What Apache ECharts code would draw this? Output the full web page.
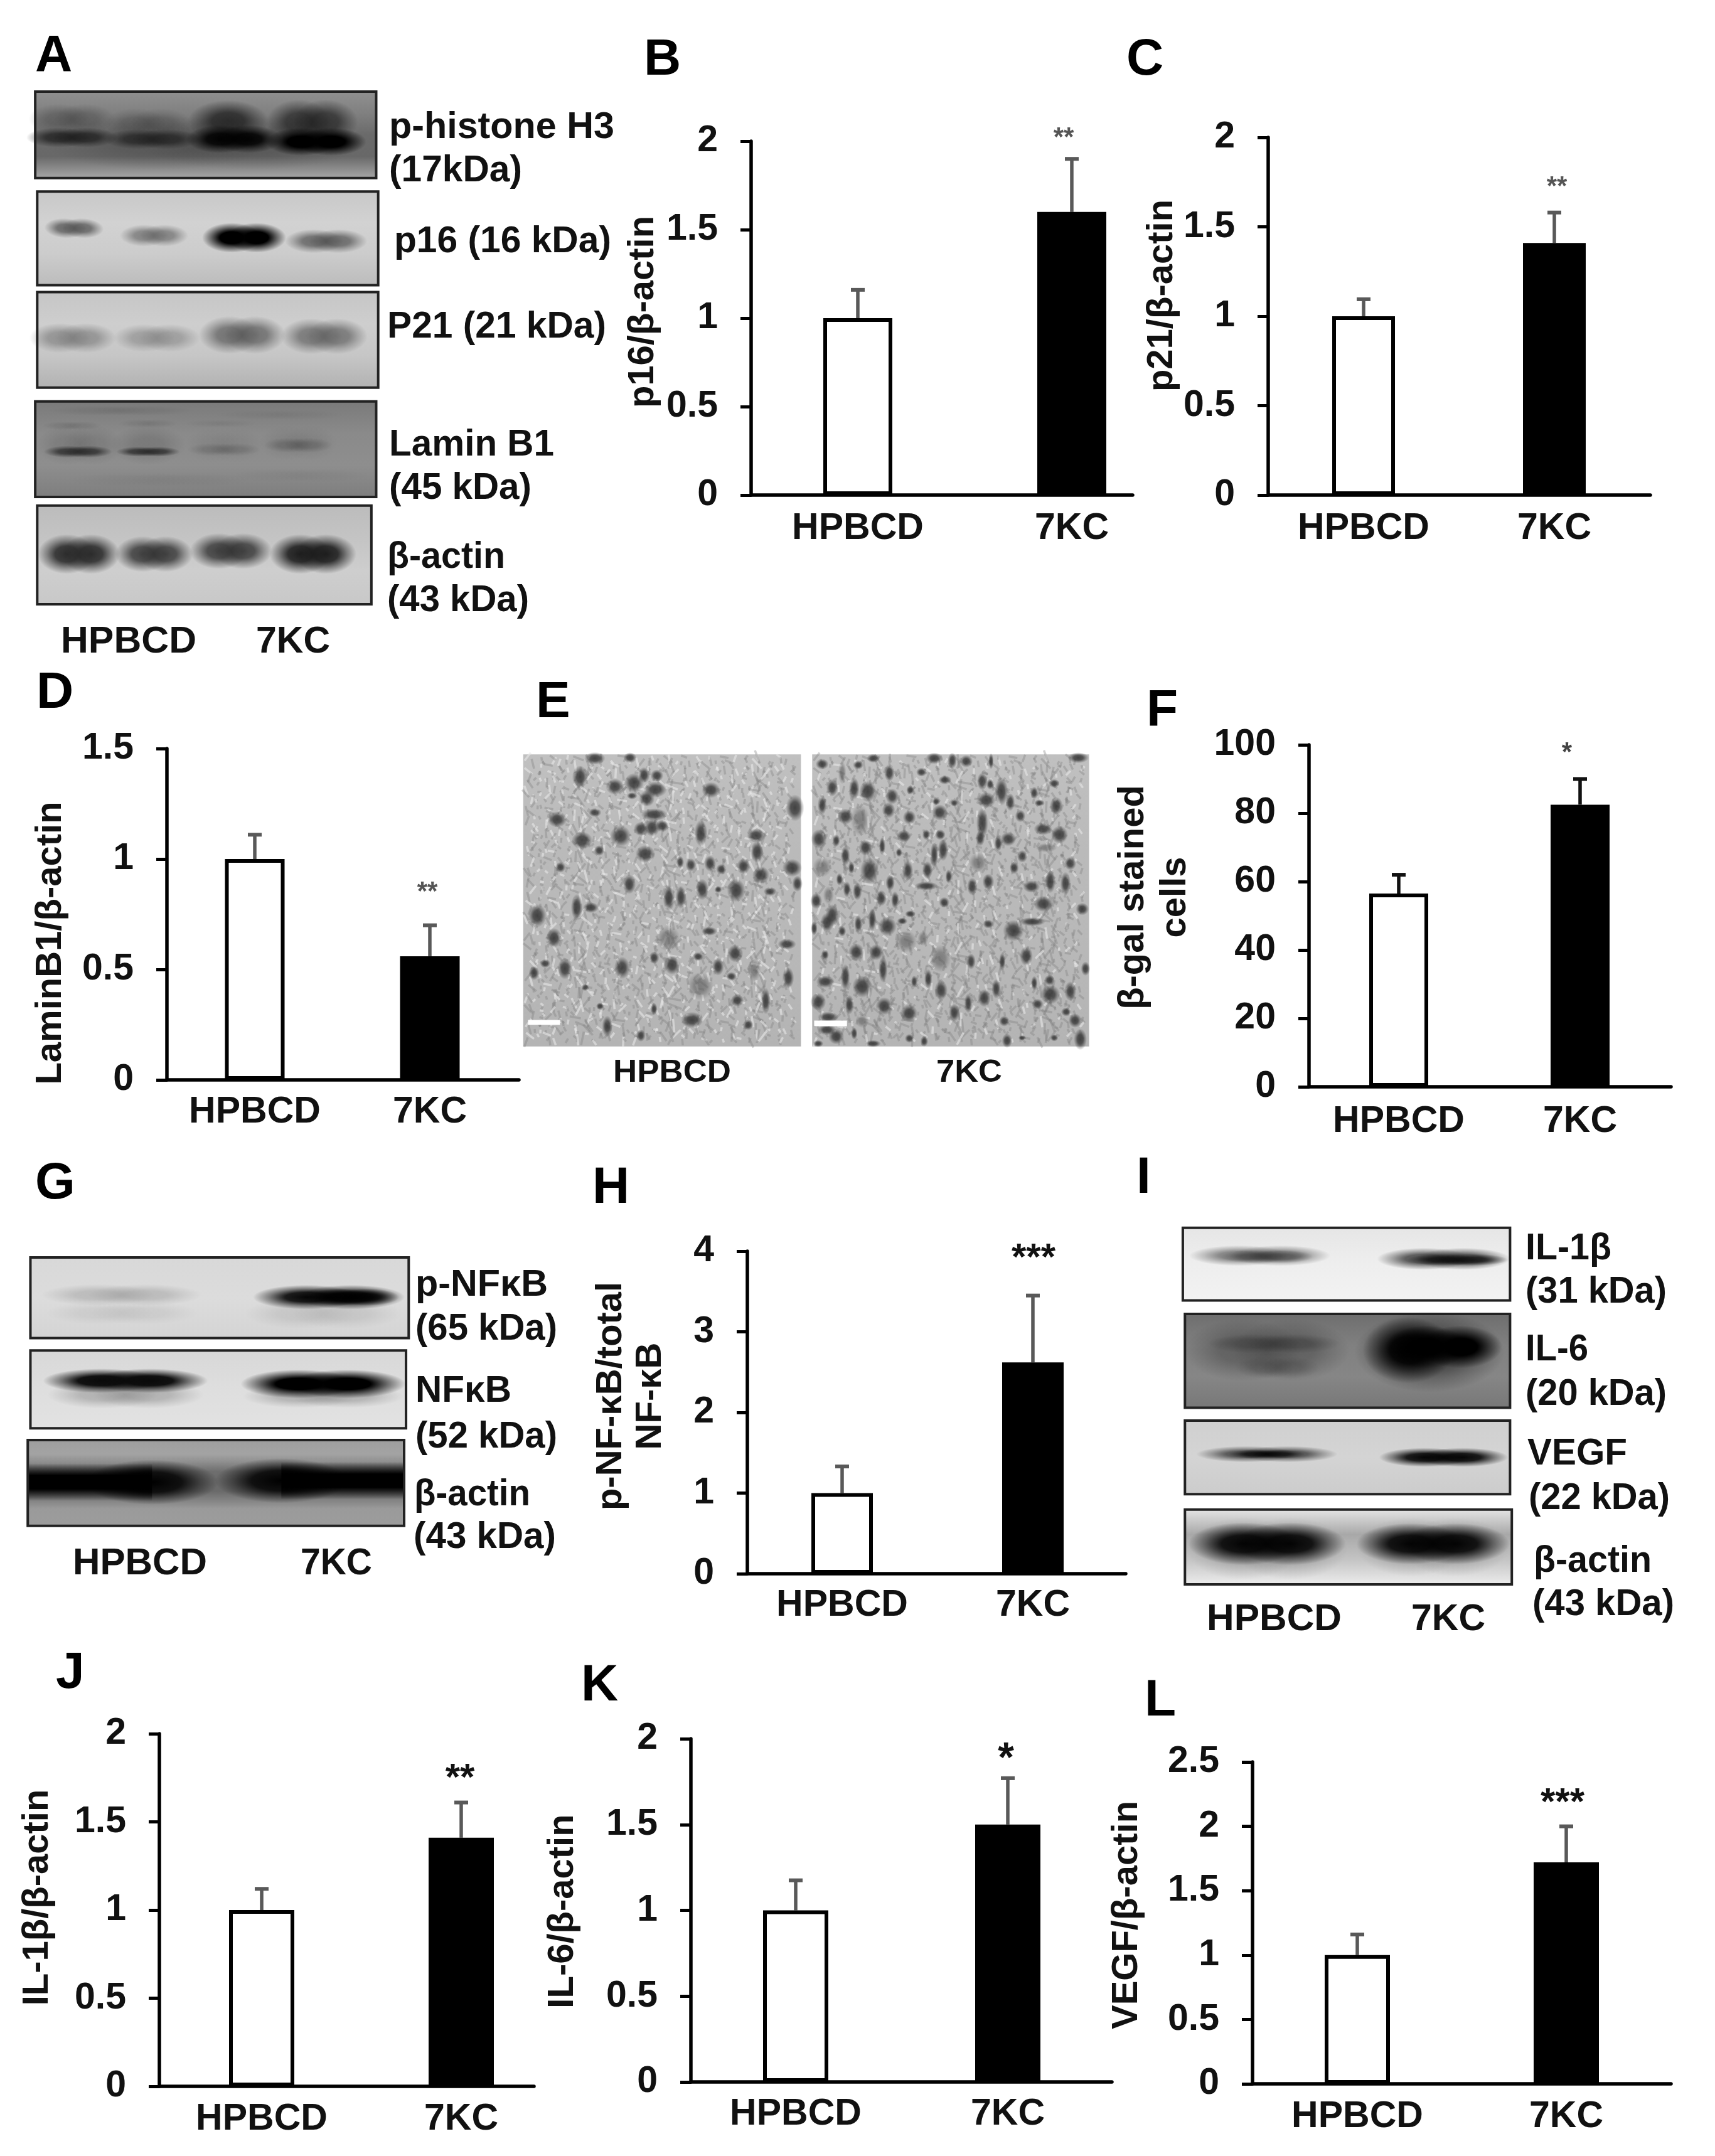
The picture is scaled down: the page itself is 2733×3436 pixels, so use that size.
<!DOCTYPE html>
<html><head><meta charset="utf-8">
<style>html,body{margin:0;padding:0;background:#fff}#c{width:2733px;height:3436px}</style>
<script src="https://cdn.jsdelivr.net/npm/echarts@6/dist/echarts.min.js"></script>
</head><body><div id="c"></div>
<script>
// ---------- DATA ----------
const categories = ['HPBCD', '7KC'];
const valuesB = [1, 1.6],    errorsB = [0.16, 0.30];
const valuesC = [1, 1.41],   errorsC = [0.095, 0.17];
const valuesD = [1, 0.56],   errorsD = [0.11, 0.14];
const valuesF = [56.5, 82.5], errorsF = [5.5, 7.5];
const valuesH = [1, 2.62],   errorsH = [0.33, 0.83];
const valuesJ = [1, 1.41],   errorsJ = [0.12, 0.20];
const valuesK = [1, 1.5],    errorsK = [0.175, 0.27];
const valuesL = [1, 1.72],   errorsL = [0.16, 0.28];
const titlesY = {B:'p16/β-actin', C:'p21/β-actin', D:'LaminB1/β-actin', F:'β-gal stained\ncells',
                 H:'p-NF-κB/total\nNF-κB', J:'IL-1β/β-actin', K:'IL-6/β-actin', L:'VEGF/β-actin'};
const stars = {B:'**', C:'**', D:'**', F:'*', H:'***', J:'**', K:'*', L:'***'};

// ---------- LAYOUT of each bar panel (pixels) ----------
const panels = [
 {k:'B',v:valuesB,e:errorsB,max:2,  step:.5, ax:1197,top:225, bot:789, right:1805,c:[1367,1708],bw:110,tx:1025,ty:497, star:[1695,212,42,'#555'],xm:24,err:'#595959'},
 {k:'C',v:valuesC,e:errorsC,max:2,  step:.5, ax:2021,top:219, bot:789, right:2630,c:[2173,2477],bw:100,tx:1852,ty:471, star:[2481,290,42,'#555'],xm:24,err:'#595959'},
 {k:'D',v:valuesD,e:errorsD,max:1.5,step:.5, ax:266, top:1193,bot:1721,right:827, c:[406,685], bw:95, tx:81,  ty:1503,star:[681,1414,42,'#555'],xm:22,err:'#595959'},
 {k:'F',v:valuesF,e:errorsF,max:100,step:20, ax:2086,top:1187,bot:1732,right:2663,c:[2229,2518],bw:94, tx:1877,ty:1430,star:[2497,1192,42,'#444'],xm:26,err:'#111',lh:67},
 {k:'H',v:valuesH,e:errorsH,max:4,  step:1,  ax:1191,top:1994,bot:2508,right:1794,c:[1342,1646],bw:98, tx:1039,ty:2225,star:[1647,1994,60,'#111'],xm:21,err:'#595959',lh:63},
 {k:'J',v:valuesJ,e:errorsJ,max:2,  step:.5, ax:254, top:2763,bot:3325,right:851, c:[417,735], bw:104,tx:60,  ty:3024,star:[733,2823,60,'#111'],xm:23,err:'#595959'},
 {k:'K',v:valuesK,e:errorsK,max:2,  step:.5, ax:1101,top:2771,bot:3318,right:1772,c:[1268,1606],bw:104,tx:897, ty:3046,star:[1603,2792,66,'#111'],xm:22,err:'#595959'},
 {k:'L',v:valuesL,e:errorsL,max:2.5,step:.5, ax:1996,top:2808,bot:3321,right:2663,c:[2163,2496],bw:104,tx:1796,ty:3052,star:[2490,2862,60,'#111'],xm:23,err:'#595959'}
];
const FONT = '"Liberation Sans", Arial, sans-serif';
const TICK_FS = 59, TITLE_FS = 58;

// ---------- text helpers ----------
const mctx = document.createElement('canvas').getContext('2d');
function label(text, x0, x1, yc, fs, fill) {
  mctx.font = 'bold ' + fs + 'px "Liberation Sans"';
  const w = mctx.measureText(text).width;
  const sx = x1 ? (x1 - x0) / w : 1;
  return {type:'text', z:20, x:x0, y:yc, scaleX:sx, silent:true,
    style:{text:text, fontFamily:FONT, fontWeight:'bold', fontSize:fs, fill:fill||'#111', align:'left', verticalAlign:'middle'}};
}
const panelLetters = [['A',56,90],['B',1026,96],['C',1795,96],['D',58,1105],['E',854,1120],['F',1827,1134],
  ['G',56,1887],['H',944,1894],['I',1811,1878],['J',89,2667],['K',926,2687],['L',1824,2711]];
const blotLabels = [
 ['p-histone H3',620,979,204],['(17kDa)',620,832,273],['p16 (16 kDa)',628,974,386],['P21 (21 kDa)',617,966,522],
 ['Lamin B1',620,883,710],['(45 kDa)',620,847,779],['β-actin',617,805,889],['(43 kDa)',617,843,958],
 ['HPBCD',97,313,1024],['7KC',408,526,1024],
 ['p-NFκB',662,873,2049],['(65 kDa)',662,888,2119],['NFκB',662,815,2218],['(52 kDa)',662,888,2291],
 ['β-actin',660,845,2383],['(43 kDa)',659,886,2451],['HPBCD',116,330,2493],['7KC',479,593,2493],
 ['IL-1β',2431,2568,1991],['(31 kDa)',2431,2656,2060],['IL-6',2431,2531,2152],['(20 kDa)',2431,2656,2223],
 ['VEGF',2434,2593,2318],['(22 kDa)',2436,2661,2389],['β-actin',2444,2632,2489],['(43 kDa)',2442,2668,2558],
 ['HPBCD',1923,2138,2582],['7KC',2249,2367,2582]
];

// ---------- blot drawing: soft bands as radial-gradient circles ----------
function grey(g,a){return 'rgba('+g+','+g+','+g+','+a+')';}
function blob(x,y,rx,ry,g,a,rot,tight){
  const stops = tight
    ? [{offset:0,color:grey(g,a)},{offset:.45,color:grey(g,a*.85)},{offset:.72,color:grey(g,a*.4)},{offset:1,color:grey(g,0)}]
    : [{offset:0,color:grey(g,a)},{offset:.4,color:grey(g,a*.9)},{offset:.7,color:grey(g,a*.42)},{offset:1,color:grey(g,0)}];
  return {type:'circle', z:5, silent:true, x:x, y:y, scaleX:rx/100, scaleY:ry/100, rotation:rot||0,
    shape:{cx:0,cy:0,r:100},
    style:{fill:{type:'radial',x:.5,y:.5,r:.5,colorStops:stops}}};
}
function blotFrame(x,y,w,h,stops){
  return {type:'rect', z:4, silent:true, shape:{x:x,y:y,width:w,height:h},
    style:{fill:{type:'linear',x:0,y:0,x2:0,y2:1,colorStops:stops.map((c,i)=>({offset:i/(stops.length-1),color:c}))}}};
}
function blotEdge(x,y,w,h){
  return {type:'rect', z:7, silent:true, shape:{x:x,y:y,width:w,height:h}, style:{fill:'transparent',stroke:'#222',lineWidth:4}};
}
function crop(ox,oy,cw,ch){
  const kx=cw/1568, ky=ch/1568;
  return {
    // a band: two overlapping lobes so that the ends stay blunt
    b:(x,y,rx,ry,g,a,rot)=>{
      const X=ox+x*kx, Y=oy+y*ky, RX=rx*1.12*kx, RY=ry*1.15*ky;
      if(RX/RY<2) return [blob(X,Y,RX,RY,g,a,rot)];
      const al=1-Math.sqrt(1-Math.min(a,.995));
      return [blob(X-RX*.3,Y,RX*.72,RY,g,al*1.25,rot),blob(X+RX*.3,Y,RX*.72,RY,g,al*1.25,rot)];
    },
    n:(x,y,rx,ry,g,a)=>blob(ox+x*kx,oy+y*ky,rx*kx,ry*ky,g,a,0,true),
    bg:(x0,y0,x1,y1,st)=>blotFrame(ox+x0*kx,oy+y0*ky,(x1-x0)*kx,(y1-y0)*ky,st),
    edge:(x0,y0,x1,y1)=>blotEdge(ox+x0*kx,oy+y0*ky,(x1-x0)*kx,(y1-y0)*ky),
    fade:(x0,y0,x1,y1,g,a)=>({type:'rect',z:5,silent:true,shape:{x:ox+x0*kx,y:oy+y0*ky,width:(x1-x0)*kx,height:(y1-y0)*ky},
      style:{fill:{type:'linear',x:0,y:0,x2:0,y2:1,colorStops:[{offset:0,color:grey(g,0)},{offset:.32,color:grey(g,a)},{offset:.68,color:grey(g,a)},{offset:1,color:grey(g,0)}]}}}),
    bar:(x0,y0,x1,y1,c)=>({type:'rect',z:8,silent:true,shape:{x:ox+x0*kx,y:oy+y0*ky,width:(x1-x0)*kx,height:(y1-y0)*ky},style:{fill:c}}),
    kx,ky
  };
}
const gfx = [];
const add=(c,list)=>list.forEach(b=>gfx.push(...c.b(...b)));
// Panel A
(function(){
  const c=crop(0,0,1000,1080);
  gfx.push(c.bg(88,212,940,412,['#909090','#808080','#6a6a6a','#686868','#a6a6a6']));
  add(c,[[510,330,350,55,40,.35],[180,275,95,30,45,.45],[370,285,95,30,45,.4],[570,280,90,42,25,.8],[780,282,100,45,25,.8],
   [180,318,100,20,25,.85],[380,322,105,20,25,.8],[585,322,105,28,0,.95],[790,328,110,28,0,1]]);
  gfx.push(c.edge(88,212,940,412));
  gfx.push(c.bg(93,443,945,660,['#c8c8c8','#d2d2d2','#cccccc','#bcbcbc']));
  add(c,[[185,528,65,20,75,.85,-.05],[385,545,75,22,85,.75],[610,550,92,30,0,1],[815,558,90,24,65,.8]]);
  gfx.push(c.edge(93,443,945,660));
  gfx.push(c.bg(93,676,945,897,['#c6c6c6','#cecece','#c6c6c6','#b2b2b2']));
  add(c,[[182,782,95,30,105,.7],[392,782,95,28,115,.65],[605,775,95,38,75,.8],[810,778,95,36,85,.8]]);
  gfx.push(c.edge(93,676,945,897));
  gfx.push(c.bg(88,929,940,1150,['#7a7a7a','#8a8a8a','#8e8e8e','#7e7e7e']));
  add(c,[[200,1030,95,40,70,.3],[370,1030,85,40,70,.25],[560,1030,85,35,75,.15],[745,1025,85,35,75,.2],[195,1045,75,12,35,.85],[370,1045,70,10,35,.85],
   [560,1040,80,13,80,.45],[745,1030,75,15,70,.5],[180,985,65,9,80,.3],[370,980,65,9,80,.25],[550,980,80,8,80,.15],[700,960,140,10,95,.2],[300,950,160,10,70,.2],[400,1110,200,15,105,.2],[750,1100,150,14,105,.18]]);
  gfx.push(c.edge(88,929,940,1150));
  gfx.push(c.bg(93,1170,928,1398,['#bcbcbc','#c4c4c4','#cecece','#c8c8c8']));
  add(c,[[197,1282,90,40,40,.95],[385,1282,85,36,45,.9],[577,1275,90,36,45,.9],[782,1282,95,40,25,.95]]);
  gfx.push(c.edge(93,1170,928,1398));
})();
// Panel G
(function(){
  const c=crop(0,1820,950,780);
  gfx.push(c.bg(80,370,1075,628,['#d8d8d8','#dcdcdc','#d4d4d4']));
  add(c,[[320,490,185,30,130,.5],[320,548,175,32,170,.4],[850,550,180,42,150,.4],[865,497,175,34,0,.95],[930,497,105,24,0,.9]]);
  gfx.push(c.edge(80,370,1075,628));
  gfx.push(c.bg(80,668,1068,917,['#d8d8d8','#dedede','#e2e2e2']));
  add(c,[[330,810,180,38,100,.5],[850,815,185,32,100,.5],[330,765,190,34,10,.98],[850,775,190,40,0,1]]);
  gfx.push(c.edge(80,668,1068,917));
  gfx.push(c.bg(73,955,1063,1230,['#9e9e9e','#a6a6a6','#9a9a9a','#9a9a9a','#9c9c9c']));
  gfx.push(c.fade(75,1000,1061,1175,40,.42));
  gfx.push(c.fade(75,1030,400,1150,0,1)); gfx.push(c.fade(740,1025,1061,1145,0,1));
  gfx.push(c.n(400,1090,175,72,0,1)); gfx.push(c.n(740,1085,175,72,0,1));
  gfx.push(c.edge(73,955,1063,1230));
})();
// Panel I
(function(){
  const c=crop(1850,1820,883,800);
  gfx.push(c.bg(62,268,988,495,['#e6e6e6','#eeeeee','#f2f2f2']));
  add(c,[[280,355,175,28,60,.75],[300,358,115,18,40,.6],[800,365,165,30,30,.85],[840,368,125,16,10,.85]]);
  gfx.push(c.edge(62,268,988,495));
  gfx.push(c.bg(68,537,988,830,['#6e6e6e','#808080','#868686','#787878']));
  add(c,[[300,650,205,85,50,.55],[320,630,165,26,40,.5],[330,705,105,30,50,.4],[760,655,190,110,20,.6],[700,650,115,90,0,1],[800,640,145,58,0,1]]);
  gfx.push(c.edge(68,537,988,830));
  gfx.push(c.bg(68,870,988,1100,['#d0d0d0','#d4d4d4','#cccccc']));
  add(c,[[300,975,175,22,20,.8],[300,975,95,12,0,.8],[800,985,160,26,0,.95]]);
  gfx.push(c.edge(68,870,988,1100));
  gfx.push(c.bg(68,1148,993,1382,['#e4e4e4','#a8a8a8','#c4c4c4','#ececec']));
  add(c,[[300,1270,200,85,90,.5],[770,1265,190,80,90,.5],[300,1255,195,58,0,.95],[770,1255,190,56,0,.95]]);
  gfx.push(c.edge(68,1148,993,1382));
})();
// Panel E micrographs
const nucleiLeft = [[232,280,16,14],[320,278,10,12],[195,345,12,26],[282,378,14,18],[330,365,15,22],[355,338,9,18],[387,340,10,14],[383,388,18,18],[362,420,12,18],[325,410,8,8],[522,390,14,18],[732,452,14,30],[138,492,15,18],[232,468,10,10],[380,475,20,14],[347,525,11,16],[375,520,12,20],[400,515,10,14],[296,550,16,24],[200,565,16,20],[497,540,10,30],[635,548,14,16],[637,605,10,24],[358,612,15,20],[243,600,8,12],[146,658,8,12],[520,645,9,18],[472,650,8,15],[445,640,6,14],[603,655,10,18],[548,665,8,12],[647,685,13,20],[725,660,15,20],[738,715,8,18],[318,717,10,22],[500,735,10,24],[585,738,14,26],[417,765,9,30],[447,762,8,26],[540,735,6,8],[670,742,10,10],[187,797,9,30],[222,798,12,12],[88,826,14,26],[130,903,12,22],[518,880,12,10],[712,925,14,12],[583,957,12,20],[300,1007,12,25],[157,1010,11,24],[108,992,8,10],[425,997,12,22],[380,972,8,14],[490,968,8,10],[540,1003,9,20],[80,1025,8,16],[715,1042,9,24],[573,1037,8,10],[588,1120,10,14],[659,1122,7,30],[475,1188,17,18],[263,1210,8,24],[347,1242,7,14],[615,1205,8,12],[208,1075,6,8],[245,1140,6,8],[380,1150,5,14]];
const nucleiLeftPale = [[415,905,18,28],[630,1015,10,25],[495,1070,20,30]];
const nucleiRight = [[928,280,10,10],[1080,280,13,13],[1125,288,7,18],[1160,290,10,14],[1222,290,4,18],[1440,278,16,12],[890,303,8,10],[800,300,10,12],[968,330,8,20],[1048,328,8,10],[1107,355,10,10],[825,382,9,20],[880,385,8,25],[914,395,13,24],[975,412,10,18],[1020,390,6,10],[1200,360,8,20],[1220,370,6,12],[1248,395,10,32],[1210,425,14,18],[1270,432,7,20],[1380,367,8,10],[1330,400,6,14],[800,442,7,22],[1343,435,8,8],[1385,445,10,20],[858,482,12,18],[966,460,10,18],[1094,468,12,18],[1018,485,10,16],[1130,435,6,8],[1085,430,6,8],[1200,505,9,35],[1295,480,8,14],[1352,525,14,14],[1393,545,13,20],[1004,550,11,14],[1095,545,8,12],[1060,545,6,12],[792,560,12,22],[835,565,6,14],[1195,557,7,18],[1265,560,12,16],[1240,575,6,18],[908,590,10,18],[950,585,5,20],[1102,598,8,25],[1080,615,6,30],[858,618,7,22],[992,607,5,10],[1300,620,8,14],[1420,645,9,15],[918,670,14,30],[1014,670,8,22],[1063,668,8,20],[1280,660,7,14],[873,660,5,14],[1116,690,5,16],[970,712,7,18],[1060,723,18,10],[843,700,5,14],[1215,708,9,18],[1175,725,8,20],[1323,725,13,14],[1370,708,8,26],[1408,714,8,26],[862,735,6,18],[888,742,7,20],[948,765,8,18],[982,772,6,20],[1105,780,8,12],[785,775,9,18],[1353,785,15,18],[1450,803,10,14],[825,825,10,25],[812,850,10,22],[890,855,6,20],[925,840,6,26],[963,863,14,22],[850,880,6,12],[780,870,5,16],[1000,845,8,8],[1020,820,8,8],[1325,847,20,10],[1278,878,16,24],[1215,855,8,10],[885,953,12,20],[935,953,11,18],[807,962,6,12],[1172,985,7,18],[1310,966,10,22],[1250,985,5,20],[952,1012,7,30],[858,1040,7,30],[808,1055,14,14],[1458,1010,7,16],[900,1072,15,25],[1065,1045,6,22],[1030,1055,5,14],[1097,1085,10,22],[1235,1080,7,22],[1205,1112,10,20],[1330,1060,5,16],[1368,1050,8,12],[1370,1100,15,22],[1420,1088,9,22],[790,1125,12,20],[868,1135,7,22],[955,1140,13,20],[1165,1130,6,22],[1017,1165,13,20],[1130,1163,8,20],[1338,1133,9,12],[1410,1160,8,10],[1432,1190,10,16],[1255,1192,8,12],[815,1178,16,12],[835,1245,12,18],[812,1222,14,12],[880,1235,5,14],[1018,1252,7,10],[1055,1262,6,12],[927,1270,12,8],[1262,1260,8,16],[1445,1255,10,24],[790,1270,8,8],[1300,1250,6,6],[1380,1250,6,8]];
const nucleiRightPale = [[850,330,6,25],[895,495,14,35],[1190,642,14,22],[1360,590,16,10],[800,657,14,22],[816,755,8,20],[1010,915,16,24],[1052,905,8,16],[1095,975,16,30],[900,1190,10,16]];
(function(){
  const c=crop(800,1080,1000,720);
  const offs=[3,-7,11,-2,8,-12,5,-9,1,12,-5,7,-11,2,9,-3,-8,6,10,-1,-6,4,-10];
  const angs=[.35,-.5,.9,.1,-.2,1.2,.6,-.8,.25,-.05,.75,1.4,-.35,.45,-.65,.15];
  const lens=[5,3,7,4,9,3,5,8,3,6,4,11,5];
  function field(x0,x1,pale,dark,lightEvery){
    gfx.push(c.bg(x0,266,x1,1280,['#c0c0c0','#bababa','#b8b8b8','#b4b4b4']));
    let n=0;
    for(let y=285;y<1262;y+=19){
      for(let x=x0+18;x<x1-16;x+=17){
        n++;
        const px=800+(x+offs[n%23])*c.kx, py=1080+(y+offs[(n*3+y)%23])*c.ky, a=angs[(n+y)%16], len=lens[(n*7)%13];
        const light=(n+(y>>2))%lightEvery===0;
        gfx.push({type:'line',z:5,silent:true,
          shape:{x1:px-Math.sin(a)*len,y1:py-Math.cos(a)*len,x2:px+Math.sin(a)*len,y2:py+Math.cos(a)*len},
          style:{stroke:light?'#e8e8e8':'#808080',lineWidth:light?3.5:3.5,opacity:light?.6:.36}});
      }
    }
    pale.forEach(b=>gfx.push(c.n(b[0],b[1],b[2]*1.7,b[3]*1.6,85,.6)));
    dark.forEach(b=>gfx.push(c.n(b[0],b[1],b[2]*1.65,b[3]*1.55,52,.9)));
  }
  field(53,747,nucleiLeftPale,nucleiLeft,3);
  gfx.push(c.bar(65,1188,145,1205,'#fff'));
  field(775,1467,nucleiRightPale,nucleiRight,7);
  gfx.push(c.bar(780,1190,862,1210,'#fff'));
  gfx.push(label('HPBCD',977,1165,1710,50));
  gfx.push(label('7KC',1492,1597,1710,50));
})();
blotLabels.forEach(l=>gfx.push(label(l[0],l[1],l[2],l[3],59)));
panelLetters.forEach(l=>gfx.push(label(l[0],l[1],null,l[2],82,'#000')));

// ---------- build ECharts option ----------
const grid=[], xAxis=[], yAxis=[], series=[];
panels.forEach((p,i)=>{
  const sp=p.c[1]-p.c[0];
  grid.push({left:p.ax, top:p.top, width:p.right-p.ax, height:p.bot-p.top});
  xAxis.push({type:'value', gridIndex:i, min:(p.ax-p.c[0])/sp, max:(p.right-p.c[0])/sp, splitLine:{show:false},
    axisLine:{show:true,onZero:false,lineStyle:{color:'#000',width:5.5}}, axisTick:{show:false},
    axisLabel:{customValues:[0,1], formatter:v=>categories[Math.round(v)], margin:p.xm,
      color:'#111', fontFamily:FONT, fontWeight:'bold', fontSize:TICK_FS, hideOverlap:false}});
  const lastLineHalf = TITLE_FS/2;
  const shift = (p.top+p.bot)/2 - p.ty;
  yAxis.push({type:'value', gridIndex:i, min:0, max:p.max, interval:p.step, splitLine:{show:false},
    axisLine:{show:true,onZero:false,lineStyle:{color:'#000',width:5.5}},
    axisTick:{show:true,length:17,lineStyle:{color:'#000',width:5}},
    axisLabel:{margin:53,color:'#111',fontFamily:FONT,fontWeight:'bold',fontSize:TICK_FS,padding:[0,0,4,0],
      showMinLabel:true,showMaxLabel:true,hideOverlap:false},
    name:titlesY[p.k], nameLocation:'middle', nameMoveOverlap:false, nameGap:p.ax-p.tx-lastLineHalf,
    nameTextStyle:{color:'#111',fontFamily:FONT,fontWeight:'bold',fontSize:TITLE_FS,lineHeight:p.lh||TITLE_FS,
      padding:[0,shift<0?-2*shift:0,0,shift>0?2*shift:0]}});
  series.push({type:'bar', xAxisIndex:i, yAxisIndex:i, barWidth:p.bw, silent:true, clip:false,
    data:p.v.map((v,j)=>({value:[j,v],itemStyle:{color:j?'#000':'#fff',borderColor:'#000',borderWidth:6}}))});
  series.push({type:'custom', xAxisIndex:i, yAxisIndex:i, silent:true, clip:false, z:1,
    encode:{x:0,y:1}, data:p.v.map((v,j)=>[j,v,p.e[j]]),
    renderItem:(params,api)=>{
      const a=api.coord([api.value(0),api.value(1)]), b=api.coord([api.value(0),api.value(1)+api.value(2)]);
      return {type:'group',children:[
        {type:'line',shape:{x1:a[0],y1:a[1],x2:b[0],y2:b[1]},style:{stroke:p.err,lineWidth:5.5}},
        {type:'line',shape:{x1:b[0]-11,y1:b[1],x2:b[0]+11,y2:b[1]},style:{stroke:p.err,lineWidth:6}}]};
    }});
  mctx.font='bold '+p.star[2]+'px "Liberation Sans"';
  const sw=mctx.measureText(stars[p.k]).width;
  gfx.push(label(stars[p.k],p.star[0]-sw/2,null,p.star[1]+p.star[2]*.2,p.star[2],p.star[3]));
});
const chart=echarts.init(document.getElementById('c'),null,{renderer:'canvas',width:2733,height:3436});
chart.setOption({animation:false,backgroundColor:'#fff',tooltip:{show:false},grid,xAxis,yAxis,series,graphic:{elements:gfx}});
</script></body></html>
